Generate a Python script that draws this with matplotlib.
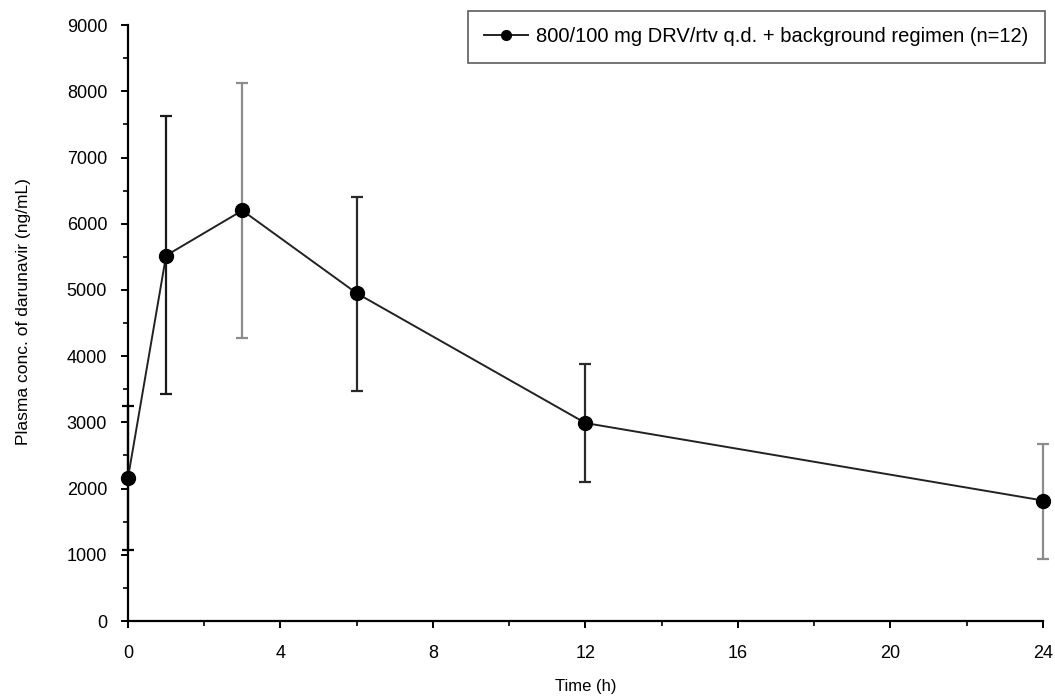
import matplotlib
matplotlib.use("Agg")
import matplotlib.pyplot as plt
from matplotlib.ticker import MultipleLocator

plt.rcParams["font.family"] = ["Liberation Sans", "DejaVu Sans"]

# time points (h) and mean darunavir concentration (ng/mL)
time_h = [0, 1, 3, 6, 12, 24]
conc_mean = [2160, 5520, 6200, 4950, 2990, 1820]
err_upper = [3240, 7620, 8130, 6400, 3880, 2670]
err_lower = [1070, 3430, 4280, 3480, 2100, 940]
bar_colors = ["#000000", "#1a1a1a", "#8c8c8c", "#2a2a2a", "#2a2a2a", "#8c8c8c"]

series_label = "800/100 mg DRV/rtv q.d. + background regimen (n=12)"

fig = plt.figure(figsize=(10.55, 6.97), dpi=100)
ax = fig.add_axes([0.1213, 0.109, 0.8673, 0.855])

# error bars, each drawn with its own shade
for t, m, hi, lo, c in zip(time_h, conc_mean, err_upper, err_lower, bar_colors):
    eb = ax.errorbar([t], [m], yerr=[[m - lo], [hi - m]], fmt="none", ecolor=c,
                     elinewidth=1.6, capsize=4, capthick=1.6, zorder=2)
    for art in eb.lines[1] + eb.lines[2]:
        art.set_clip_on(False)

ax.plot(time_h, conc_mean, color="#222222", lw=1.4, marker="o", ms=10,
        mfc="black", mec="black", label=series_label, zorder=3, clip_on=False)

ax.set_xlim(0, 24)
ax.set_ylim(0, 9000)
ax.xaxis.set_major_locator(MultipleLocator(4))
ax.xaxis.set_minor_locator(MultipleLocator(2))
ax.yaxis.set_major_locator(MultipleLocator(1000))
ax.yaxis.set_minor_locator(MultipleLocator(500))

ax.spines["top"].set_visible(False)
ax.spines["right"].set_visible(False)
ax.spines["left"].set_linewidth(1.6)
ax.spines["bottom"].set_linewidth(1.6)
ax.tick_params(axis="both", which="major", length=5, width=1.4, labelsize=13,
               direction="out")
ax.tick_params(axis="y", which="major", pad=10)
ax.tick_params(axis="x", which="major", pad=12)
ax.tick_params(axis="both", which="minor", length=3.5, width=1.2, direction="out")

ax.set_xlabel("Time (h)", fontsize=12)
ax.set_ylabel("Plasma conc. of darunavir (ng/mL)", fontsize=12.5)
ax.xaxis.set_label_coords(0.5, -0.098)
ax.yaxis.set_label_coords(-0.106, 0.52)

leg = ax.legend(loc="upper right", bbox_to_anchor=(1.013, 1.04), fontsize=14.5,
                frameon=True, fancybox=False, edgecolor="#333333",
                handlelength=2.2, handletextpad=0.4, borderpad=0.8, markerscale=0.7)
leg.get_frame().set_linewidth(1.2)

fig.savefig("out.png", dpi=100)
